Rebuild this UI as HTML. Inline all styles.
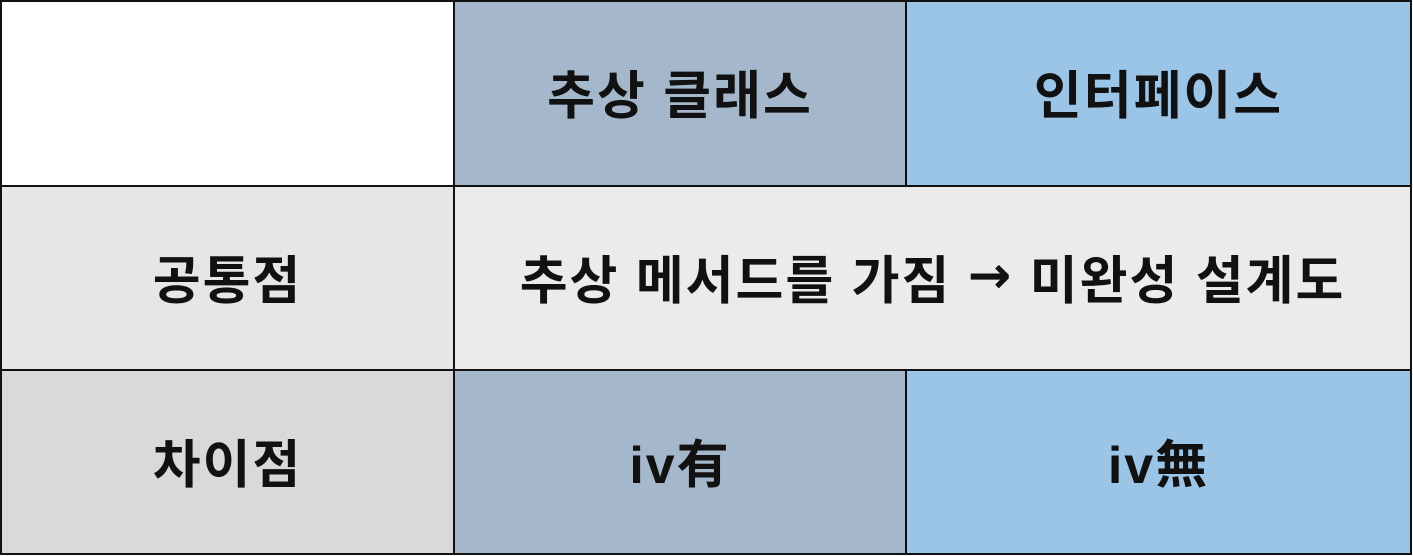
<!DOCTYPE html>
<html><head><meta charset="utf-8"><style>
body{margin:0;width:1413px;height:556px;background:#fff;overflow:hidden}
.c{position:absolute;box-sizing:border-box;border:2px solid #111;display:flex;align-items:center;justify-content:center;font-family:"Liberation Sans","Noto Sans CJK KR",sans-serif;font-weight:bold;font-size:52px;color:#111;letter-spacing:2px;padding-bottom:4px}
.ar{font-family:"DejaVu Sans",sans-serif;font-weight:bold}
</style></head><body>
<div class="c" style="left:0;top:0;width:455px;height:187px;background:#fff"></div>
<div class="c" style="left:453px;top:0;width:454px;height:187px;background:#a5b7ca">추상 클래스</div>
<div class="c" style="left:905px;top:0;width:507px;height:187px;background:#9bc5e6">인터페이스</div>
<div class="c" style="left:0;top:185px;width:455px;height:186px;background:#e6e6e6">공통점</div>
<div class="c" style="left:453px;top:185px;width:959px;height:186px;background:#ebebeb">추상 메서드를 가짐&nbsp;<span class="ar">→</span>&nbsp;미완성 설계도</div>
<div class="c" style="left:0;top:369px;width:455px;height:186px;background:#d9d9d9">차이점</div>
<div class="c" style="left:453px;top:369px;width:454px;height:186px;background:#a5b7ca">iv有</div>
<div class="c" style="left:905px;top:369px;width:507px;height:186px;background:#9bc5e6">iv無</div>
</body></html>
